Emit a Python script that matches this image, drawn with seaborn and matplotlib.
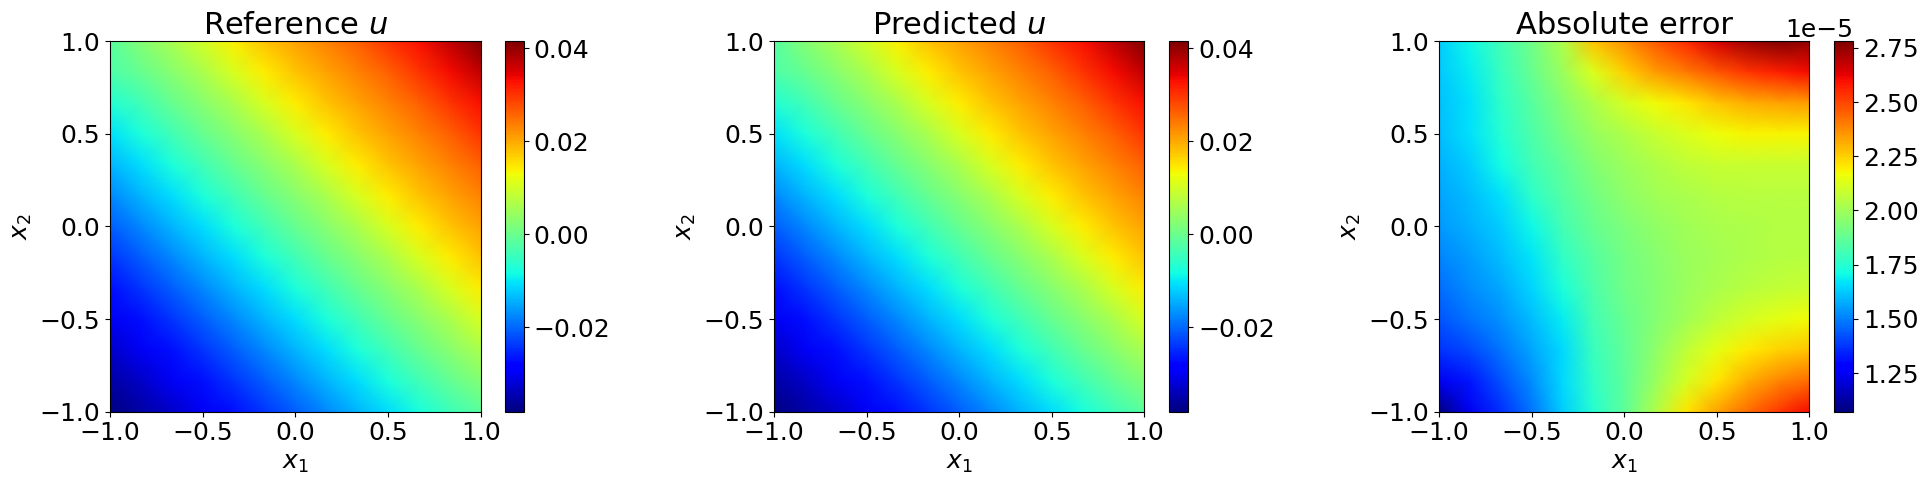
import matplotlib
matplotlib.use("Agg")
import matplotlib.pyplot as plt
import numpy as np
import pandas as pd
import seaborn as sns

W, H = 1927, 484

# Grid nodes: x1 runs left to right, x2 runs top (1) to bottom (-1), step 1/6.
x1_nodes = [-1, -5/6, -4/6, -3/6, -2/6, -1/6, 0, 1/6, 2/6, 3/6, 4/6, 5/6, 1]
x2_nodes = [1, 5/6, 4/6, 3/6, 2/6, 1/6, 0, -1/6, -2/6, -3/6, -4/6, -5/6, -1]

# Values, in units of 1e-3
reference_u = [
    [-2.0, 2.5, 6.0, 10.0, 14.0, 17.6, 20.5, 23.2, 26.2, 29.8, 33.0, 37.0, 41.5],
    [-3.0, -0.5, 2.7, 6.2, 10.5, 14.4, 17.6, 20.5, 23.2, 26.2, 29.8, 33.3, 37.0],
    [-7.0, -4.2, -0.5, 2.7, 6.2, 10.5, 14.4, 17.6, 20.5, 23.2, 26.2, 29.8, 33.0],
    [-10.6, -7.5, -4.2, -0.5, 2.7, 6.2, 10.5, 14.4, 17.6, 20.5, 23.2, 26.2, 29.8],
    [-14.0, -10.9, -7.5, -4.2, -0.5, 2.7, 6.2, 10.5, 14.4, 17.6, 20.5, 23.2, 26.2],
    [-17.4, -14.2, -10.9, -7.5, -4.2, -0.5, 2.7, 6.2, 10.5, 14.4, 17.6, 20.5, 23.2],
    [-20.8, -17.5, -14.2, -10.9, -7.5, -4.2, -0.5, 2.7, 6.2, 10.5, 14.4, 17.6, 20.5],
    [-24.0, -21.0, -17.5, -14.2, -10.9, -7.5, -4.2, -0.5, 2.7, 6.2, 10.5, 14.4, 17.6],
    [-27.0, -24.0, -21.0, -17.5, -14.2, -10.9, -7.5, -4.2, -0.5, 2.7, 6.2, 10.5, 14.4],
    [-30.0, -27.0, -24.0, -21.0, -17.5, -14.2, -10.9, -7.5, -4.2, -0.5, 2.7, 6.2, 10.5],
    [-33.2, -30.0, -27.0, -24.0, -21.0, -17.5, -14.2, -10.9, -7.5, -4.2, -0.5, 2.7, 6.2],
    [-35.5, -33.2, -30.0, -27.0, -24.0, -21.0, -17.5, -14.2, -10.9, -7.5, -4.2, -0.8, 2.5],
    [-38.2, -35.5, -33.2, -30.0, -27.0, -24.0, -21.0, -17.5, -14.2, -10.9, -7.8, -4.5, -1.5],
]
predicted_u = [
    [-2.0, 2.5, 6.0, 10.0, 14.0, 17.6, 20.5, 23.2, 26.2, 29.8, 33.0, 37.0, 41.5],
    [-3.0, -0.5, 2.7, 6.2, 10.5, 14.4, 17.6, 20.5, 23.2, 26.2, 29.8, 33.3, 37.0],
    [-7.0, -4.2, -0.5, 2.7, 6.2, 10.5, 14.4, 17.6, 20.5, 23.2, 26.2, 29.8, 33.0],
    [-10.6, -7.5, -4.2, -0.5, 2.7, 6.2, 10.5, 14.4, 17.6, 20.5, 23.2, 26.2, 29.8],
    [-14.0, -10.9, -7.5, -4.2, -0.5, 2.7, 6.2, 10.5, 14.4, 17.6, 20.5, 23.2, 26.2],
    [-17.4, -14.2, -10.9, -7.5, -4.2, -0.5, 2.7, 6.2, 10.5, 14.4, 17.6, 20.5, 23.2],
    [-20.8, -17.5, -14.2, -10.9, -7.5, -4.2, -0.5, 2.7, 6.2, 10.5, 14.4, 17.6, 20.5],
    [-24.0, -21.0, -17.5, -14.2, -10.9, -7.5, -4.2, -0.5, 2.7, 6.2, 10.5, 14.4, 17.6],
    [-27.0, -24.0, -21.0, -17.5, -14.2, -10.9, -7.5, -4.2, -0.5, 2.7, 6.2, 10.5, 14.4],
    [-30.0, -27.0, -24.0, -21.0, -17.5, -14.2, -10.9, -7.5, -4.2, -0.5, 2.7, 6.2, 10.5],
    [-33.2, -30.0, -27.0, -24.0, -21.0, -17.5, -14.2, -10.9, -7.5, -4.2, -0.5, 2.7, 6.2],
    [-35.5, -33.2, -30.0, -27.0, -24.0, -21.0, -17.5, -14.2, -10.9, -7.5, -4.2, -0.8, 2.5],
    [-38.2, -35.5, -33.2, -30.0, -27.0, -24.0, -21.0, -17.5, -14.2, -10.9, -7.8, -4.5, -1.5],
]
# Values, in units of 1e-5
absolute_error = [
    [1.63, 1.70, 1.80, 1.90, 2.03, 2.27, 2.36, 2.46, 2.55, 2.65, 2.73, 2.78, 2.75],
    [1.62, 1.68, 1.78, 1.88, 1.99, 2.12, 2.25, 2.34, 2.40, 2.47, 2.53, 2.57, 2.60],
    [1.61, 1.66, 1.76, 1.85, 1.94, 2.03, 2.11, 2.17, 2.21, 2.27, 2.31, 2.33, 2.34],
    [1.60, 1.66, 1.74, 1.83, 1.91, 1.98, 2.03, 2.08, 2.12, 2.16, 2.18, 2.18, 2.18],
    [1.58, 1.63, 1.71, 1.80, 1.87, 1.94, 1.99, 2.03, 2.06, 2.08, 2.08, 2.08, 2.08],
    [1.56, 1.60, 1.66, 1.76, 1.84, 1.91, 1.96, 2.00, 2.02, 2.04, 2.05, 2.05, 2.05],
    [1.54, 1.58, 1.63, 1.70, 1.81, 1.88, 1.93, 1.97, 2.00, 2.02, 2.03, 2.04, 2.04],
    [1.51, 1.55, 1.60, 1.67, 1.77, 1.85, 1.91, 1.95, 1.99, 2.01, 2.03, 2.04, 2.05],
    [1.47, 1.52, 1.57, 1.64, 1.73, 1.83, 1.90, 1.94, 1.99, 2.02, 2.05, 2.07, 2.08],
    [1.43, 1.48, 1.53, 1.60, 1.68, 1.81, 1.88, 1.94, 2.00, 2.06, 2.11, 2.14, 2.17],
    [1.37, 1.41, 1.48, 1.56, 1.65, 1.79, 1.87, 1.96, 2.06, 2.14, 2.20, 2.24, 2.27],
    [1.24, 1.32, 1.42, 1.52, 1.65, 1.77, 1.86, 1.98, 2.11, 2.21, 2.31, 2.38, 2.43],
    [1.07, 1.24, 1.36, 1.48, 1.63, 1.75, 1.86, 2.03, 2.21, 2.33, 2.43, 2.52, 2.60],
]

titles = ["Reference $u$", "Predicted $u$", "Absolute error"]
axis_ticks = [-1.0, -0.5, 0.0, 0.5, 1.0]
axis_tick_labels = ["\u22121.0", "\u22120.5", "0.0", "0.5", "1.0"]
u_ticks = [-0.02, 0.0, 0.02, 0.04]
error_ticks = [1.25e-5, 1.5e-5, 1.75e-5, 2.0e-5, 2.25e-5, 2.5e-5, 2.75e-5]
u_range = (-0.0382, 0.0415)
error_range = (1.072e-5, 2.78e-5)

panels = [
    (np.array(reference_u) * 1e-3, u_range, u_ticks),
    (np.array(predicted_u) * 1e-3, u_range, u_ticks),
    (np.array(absolute_error) * 1e-5, error_range, error_ticks),
]

# left, right of heat map and left, right of colour bar, in pixels
boxes = [(110, 480.7, 505.3, 523.7), (774, 1144.4, 1169.4, 1188.3), (1439, 1809.4, 1834.4, 1853.3)]
TOP, BOTTOM = 41.3, 411.6
FS = 18

fig = plt.figure(figsize=(W / 100, H / 100), dpi=100)

for (values, vrange, cticks), title, (l, r, cl, cr) in zip(panels, titles, boxes):
    ax = fig.add_axes([l / W, 1 - BOTTOM / H, (r - l) / W, (BOTTOM - TOP) / H])
    cax = fig.add_axes([cl / W, 1 - BOTTOM / H, (cr - cl) / W, (BOTTOM - TOP) / H])
    frame = pd.DataFrame(values, index=x2_nodes, columns=x1_nodes)
    sns.heatmap(frame, ax=ax, cbar_ax=cax, cmap="jet", vmin=vrange[0], vmax=vrange[1],
                xticklabels=False, yticklabels=False, shading="gouraud")
    n = len(x1_nodes) - 1
    ax.set_xlim(0, n)
    ax.set_ylim(n, 0)
    ax.set_xticks([(v + 1) / 2 * n for v in axis_ticks], axis_tick_labels)
    ax.set_yticks([(1 - v) / 2 * n for v in axis_ticks], axis_tick_labels)
    ax.tick_params(labelsize=FS, length=3.5, width=0.8, rotation=0)
    for s in ax.spines.values():
        s.set_visible(True)
        s.set_linewidth(0.8)
    ax.set_xlabel("$x_1$", fontsize=FS)
    ax.set_ylabel("$x_2$", fontsize=FS)
    ax.set_title(title, fontsize=22, pad=5.5)
    cb = ax.collections[0].colorbar
    cb.set_ticks(cticks)
    cb.ax.tick_params(labelsize=FS, length=3.5, width=0.8)
    cb.ax.yaxis.get_offset_text().set_fontsize(FS)
    cb.outline.set_linewidth(0.8)
    cb.outline.set_visible(True)

fig.savefig("out.png", dpi=100)
